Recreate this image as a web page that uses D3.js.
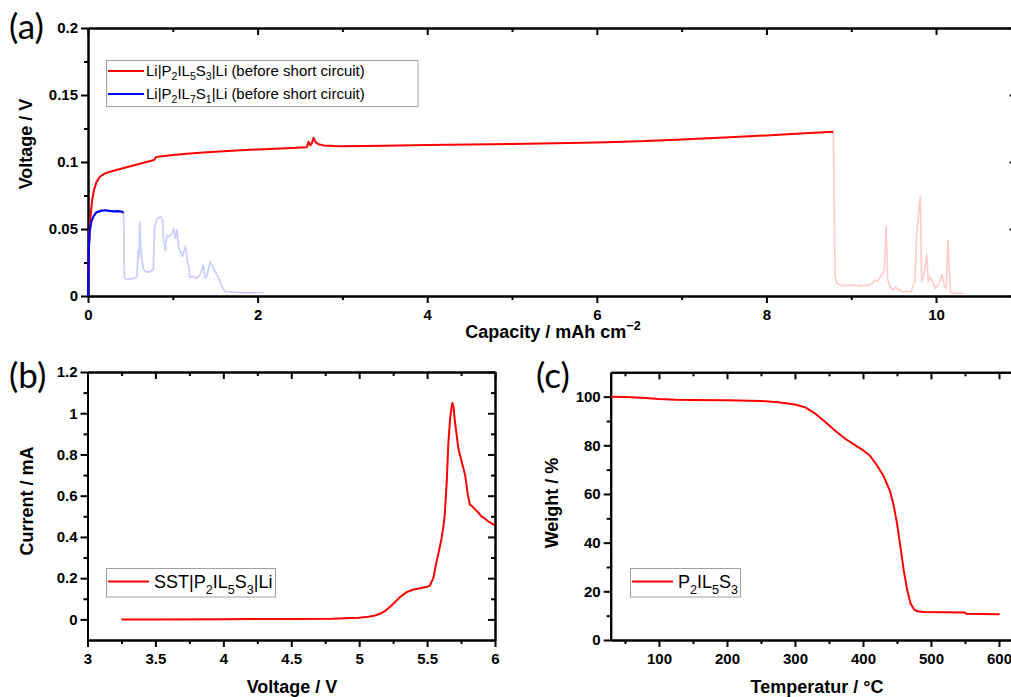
<!DOCTYPE html>
<html>
<head>
<meta charset="utf-8">
<script src="https://cdn.jsdelivr.net/npm/d3@7/dist/d3.min.js"></script>
<style>
  html, body { margin: 0; padding: 0; background: #fff; overflow: hidden; }
  svg { display: block; font-family: "Liberation Sans", Arial, sans-serif; }
</style>
</head>
<body>
<svg id="fig" width="1011" height="697"></svg>
<script>
// ---------- (a) galvanostatic Li stripping/plating: capacity vs voltage ----------
const capL5 = [0, 0.005, 0.01, 0.02, 0.035, 0.05, 0.07, 0.1, 0.14, 0.2, 0.3, 0.4, 0.5, 0.6, 0.7, 0.78, 0.8, 0.83, 1.0, 1.2, 1.4, 1.6, 1.8, 2.0, 2.2, 2.4, 2.58, 2.6, 2.62, 2.64, 2.66, 2.68, 2.72, 2.78, 2.9, 3.0, 3.5, 4.0, 4.5, 5.0, 5.5, 6.0, 6.5, 7.0, 7.5, 8.0, 8.4, 8.79];
const voltL5 = [0, 0.02, 0.035, 0.05, 0.063, 0.072, 0.079, 0.085, 0.089, 0.0915, 0.0935, 0.0952, 0.0968, 0.0985, 0.1002, 0.1015, 0.1035, 0.104, 0.1052, 0.1063, 0.1072, 0.108, 0.1088, 0.1094, 0.1099, 0.1104, 0.1110, 0.1151, 0.1125, 0.1140, 0.1181, 0.1150, 0.1132, 0.1124, 0.1119, 0.1118, 0.1122, 0.1126, 0.1130, 0.1135, 0.1140, 0.1145, 0.1155, 0.1168, 0.1182, 0.1198, 0.1212, 0.1226];

const capL5Short = [8.79, 8.8, 8.81, 8.83, 8.87, 8.92, 8.97, 9.0, 9.05, 9.1, 9.15, 9.2, 9.25, 9.28, 9.31, 9.34, 9.36, 9.39, 9.41, 9.43, 9.46, 9.49, 9.52, 9.6, 9.71, 9.73, 9.75, 9.77, 9.79, 9.80, 9.815, 9.83, 9.86, 9.89, 9.91, 9.93, 9.95, 9.99, 10.03, 10.07, 10.1, 10.12, 10.14, 10.17, 10.2, 10.33];
const voltL5Short = [0.1226, 0.06, 0.015, 0.0095, 0.0082, 0.0075, 0.0082, 0.0078, 0.0083, 0.0072, 0.008, 0.0078, 0.0095, 0.0118, 0.011, 0.014, 0.0157, 0.019, 0.052, 0.012, 0.007, 0.0045, 0.0065, 0.0032, 0.0032, 0.008, 0.0097, 0.045, 0.058, 0.066, 0.074, 0.0107, 0.017, 0.0306, 0.0107, 0.014, 0.0119, 0.0057, 0.009, 0.0157, 0.007, 0.006, 0.0413, 0.003, 0.002, 0.002];

const capL7 = [0, 0.005, 0.01, 0.02, 0.04, 0.07, 0.1, 0.15, 0.2, 0.25, 0.3, 0.35, 0.4, 0.42];
const voltL7 = [0, 0.02, 0.035, 0.048, 0.056, 0.06, 0.0625, 0.0635, 0.064, 0.0635, 0.0632, 0.0633, 0.063, 0.062];

const capL7Short = [0.42, 0.425, 0.43, 0.47, 0.52, 0.578, 0.59, 0.6, 0.61, 0.625, 0.65, 0.68, 0.72, 0.77, 0.785, 0.815, 0.855, 0.88, 0.89, 0.912, 0.93, 0.95, 0.99, 1.01, 1.03, 1.05, 1.07, 1.09, 1.11, 1.13, 1.15, 1.17, 1.19, 1.2, 1.24, 1.28, 1.32, 1.36, 1.38, 1.4, 1.44, 1.48, 1.52, 1.56, 1.58, 1.62, 1.8, 2.07];
const voltL7Short = [0.062, 0.03, 0.0132, 0.0125, 0.013, 0.0142, 0.034, 0.028, 0.0547, 0.034, 0.0206, 0.018, 0.018, 0.0195, 0.0512, 0.0575, 0.0592, 0.0567, 0.042, 0.034, 0.045, 0.0443, 0.0468, 0.0505, 0.043, 0.0493, 0.0356, 0.034, 0.0294, 0.033, 0.037, 0.0264, 0.0214, 0.014, 0.0145, 0.0132, 0.0157, 0.0231, 0.0135, 0.0145, 0.0256, 0.0206, 0.0157, 0.0107, 0.007, 0.0032, 0.0025, 0.0025];

const xTicksA = [0, 2, 4, 6, 8, 10];
const xMinorA = [1, 3, 5, 7, 9];
const yTicksA = [0, 0.05, 0.1, 0.15, 0.2];
const yTickLabelsA = ["0", "0.05", "0.1", "0.15", "0.2"];
const yMinorA = [0.025, 0.075, 0.125, 0.175];

// ---------- (b) linear sweep voltammetry ----------
const voltLSV = [3.25, 3.5, 4.0, 4.5, 4.8, 4.9, 5.0, 5.05, 5.1, 5.15, 5.2, 5.25, 5.3, 5.35, 5.4, 5.45, 5.5, 5.52, 5.546, 5.57, 5.59, 5.607, 5.62, 5.63, 5.645, 5.656, 5.67, 5.68, 5.686, 5.695, 5.705, 5.73, 5.754, 5.78, 5.80, 5.815, 5.83, 5.85, 5.875, 5.90, 5.925, 5.95, 5.97, 5.99, 6.0];
const currLSV = [0, 0, 0.001, 0.002, 0.003, 0.005, 0.008, 0.011, 0.016, 0.026, 0.045, 0.075, 0.108, 0.132, 0.145, 0.151, 0.158, 0.164, 0.2, 0.28, 0.34, 0.394, 0.45, 0.507, 0.67, 0.85, 0.977, 1.03, 1.05, 1.03, 0.96, 0.83, 0.767, 0.70, 0.605, 0.556, 0.55, 0.536, 0.52, 0.50, 0.49, 0.475, 0.468, 0.46, 0.462];

const xTicksB = [3, 3.5, 4, 4.5, 5, 5.5, 6];
const xTickLabelsB = ["3", "3.5", "4", "4.5", "5", "5.5", "6"];
const xMinorB = [3.25, 3.75, 4.25, 4.75, 5.25, 5.75];
const yTicksB = [0, 0.2, 0.4, 0.6, 0.8, 1, 1.2];
const yTickLabelsB = ["0", "0.2", "0.4", "0.6", "0.8", "1", "1.2"];
const yMinorB = [0.1, 0.3, 0.5, 0.7, 0.9, 1.1];

// ---------- (c) thermogravimetric analysis ----------
const tempTGA = [30, 50, 75, 100, 125, 150, 200, 250, 275, 300, 315, 330, 345, 360, 375, 390, 400, 410, 420, 430, 440, 445, 450, 455, 460, 465, 470, 475, 480, 490, 520, 550, 552, 575, 601];
const weightTGA = [100, 99.9, 99.5, 99.0, 98.7, 98.6, 98.5, 98.2, 97.7, 96.8, 95.6, 93, 89.5, 85.8, 82.5, 79.8, 78, 75.8, 72, 67.5, 61, 55.5, 48, 38.5, 28.5, 20.5, 15, 12.6, 11.8, 11.5, 11.4, 11.3, 10.8, 10.7, 10.6];

const xTicksC = [100, 200, 300, 400, 500, 600];
const xMinorC = [50, 150, 250, 350, 450, 550];
const yTicksC = [0, 20, 40, 60, 80, 100];
const yMinorC = [10, 30, 50, 70, 90];

// ---------- drawing ----------
const svg = d3.select("#fig");
const RED = "#ff0000", BLUE = "#0000ff";

const zip = (xs, ys) => xs.map((v, i) => [v, ys[i]]);

// Four-sided frame: labelled bottom/left with outward ticks, mirrored top/right with inward ticks
function frame(x, y, o) {
  const g = svg.append("g");
  const [x0, x1] = x.range(), [y0, y1] = y.range();
  const tickStyle = sel => {
    sel.selectAll(".domain").attr("stroke", "#000").attr("stroke-width", 2);
    sel.selectAll(".tick line").attr("stroke", "#000").attr("stroke-width", 2);
    sel.selectAll("text").attr("font-size", 15).attr("font-weight", "bold").attr("fill", "#000")
       .attr("font-family", "'Liberation Sans', Arial, sans-serif");
  };
  // unlabelled axes: drop the empty tick texts
  const bare = sel => { sel.selectAll(".tick text").remove(); tickStyle(sel); };
  const fmtX = o.xLabels ? (d => o.xLabels[o.xTicks.indexOf(d)]) : (d => String(d));
  const fmtY = o.yLabels ? (d => o.yLabels[o.yTicks.indexOf(d)]) : (d => String(d));

  // bottom
  g.append("g").attr("transform", `translate(0,${y0})`)
    .call(d3.axisBottom(x).tickValues(o.xMinor).tickSizeInner(4).tickSizeOuter(0))
    .call(bare);
  g.append("g").attr("transform", `translate(0,${y0})`)
    .call(d3.axisBottom(x).tickValues(o.xTicks).tickSizeInner(7).tickSizeOuter(0).tickPadding(6).tickFormat(fmtX))
    .call(tickStyle);
  // top (inward)
  g.append("g").attr("transform", `translate(0,${y1})`)
    .call(d3.axisTop(x).tickValues(o.xMinor).tickSizeInner(-4).tickSizeOuter(0))
    .call(bare);
  g.append("g").attr("transform", `translate(0,${y1})`)
    .call(d3.axisTop(x).tickValues(o.xTicks).tickSizeInner(-7).tickSizeOuter(0))
    .call(bare);
  // left
  g.append("g").attr("transform", `translate(${x0},0)`)
    .call(d3.axisLeft(y).tickValues(o.yMinor).tickSizeInner(4).tickSizeOuter(0))
    .call(bare);
  g.append("g").attr("transform", `translate(${x0},0)`)
    .call(d3.axisLeft(y).tickValues(o.yTicks).tickSizeInner(7).tickSizeOuter(0).tickPadding(3).tickFormat(fmtY))
    .call(tickStyle);
  // right (inward)
  g.append("g").attr("transform", `translate(${x1},0)`)
    .call(d3.axisRight(y).tickValues(o.yMinor).tickSizeInner(-4).tickSizeOuter(0))
    .call(bare);
  g.append("g").attr("transform", `translate(${x1},0)`)
    .call(d3.axisRight(y).tickValues(o.yTicks).tickSizeInner(-7).tickSizeOuter(0))
    .call(bare);
  return g;
}

function curve(x, y, pts, color, width, opacity) {
  svg.append("path")
    .datum(pts)
    .attr("fill", "none")
    .attr("stroke", color)
    .attr("stroke-width", width)
    .attr("stroke-opacity", opacity)
    .attr("stroke-linejoin", "round")
    .attr("d", d3.line().x(d => x(d[0])).y(d => y(d[1])));
}

// text made of runs: [string, "sub"|"sup"|undefined]
function rich(parent, parts, attrs) {
  const t = parent.append("text");
  Object.entries(attrs).forEach(([k, v]) => t.attr(k, v));
  const fs = parseFloat(attrs["font-size"]);
  let shift = 0;
  parts.forEach(([s, kind]) => {
    const ts = t.append("tspan").text(s);
    let target = 0;
    if (kind === "sub") { target = 0.32; ts.attr("font-size", "0.7em"); }
    if (kind === "sup") { target = -0.45; ts.attr("font-size", "0.7em"); }
    const dy = (target - shift) * fs;
    if (dy !== 0) ts.attr("dy", dy.toFixed(2));
    shift = target;
  });
  return t;
}

function legendBox(x, y, w, h) {
  svg.append("rect").attr("x", x).attr("y", y).attr("width", w).attr("height", h)
    .attr("fill", "#fff").attr("stroke", "#a0a0a0").attr("stroke-width", 1);
}

function legendLine(x1, x2, y, color) {
  svg.append("line").attr("x1", x1).attr("x2", x2).attr("y1", y).attr("y2", y)
    .attr("stroke", color).attr("stroke-width", 2);
}

function axisTitle(x, y, parts, rotate) {
  const g = svg.append("g").attr("transform", `translate(${x},${y})` + (rotate ? " rotate(-90)" : ""));
  rich(g, parts, { "font-size": 18, "font-weight": "bold", "text-anchor": "middle", fill: "#000" });
}

function panelTag(x, y, s) {
  svg.append("text").attr("x", x).attr("y", y).text(s)
    .attr("font-family", "Lato, 'Open Sans', sans-serif").attr("font-size", 35).attr("fill", "#000");
}

// ----- panel (a)
const xA = d3.scaleLinear().domain([0, 10.95]).range([88, 1016.6]);
const yA = d3.scaleLinear().domain([0, 0.2]).range([296, 28]);
frame(xA, yA, { xTicks: xTicksA, xMinor: xMinorA, yTicks: yTicksA, yLabels: yTickLabelsA, yMinor: yMinorA });
curve(xA, yA, zip(capL5Short, voltL5Short), RED, 1.7, 0.2);
curve(xA, yA, zip(capL7Short, voltL7Short), BLUE, 1.7, 0.2);
curve(xA, yA, zip(capL5, voltL5), RED, 2, 1);
curve(xA, yA, zip(capL7, voltL7), BLUE, 2.2, 1);

legendBox(106.5, 60.5, 311.5, 46);
legendLine(108, 144, 71, RED);
legendLine(108, 144, 94, BLUE);
rich(svg, [["Li|P"], ["2", "sub"], ["IL"], ["5", "sub"], ["S"], ["3", "sub"], ["|Li (before short circuit)"]],
  { x: 146, y: 75.5, "font-size": 15, fill: "#000" });
rich(svg, [["Li|P"], ["2", "sub"], ["IL"], ["7", "sub"], ["S"], ["1", "sub"], ["|Li (before short circuit)"]],
  { x: 146, y: 98.5, "font-size": 15, fill: "#000" });

axisTitle(32, 144, [["Voltage / V"]], true);
axisTitle(553, 338, [["Capacity / mAh cm"], ["\u22122", "sup"]], false);
panelTag(9, 39, "(a)");

// ----- panel (b)
const xB = d3.scaleLinear().domain([3, 6]).range([87.5, 495]);
const yB = d3.scaleLinear().domain([-0.1, 1.2]).range([640, 372]);
frame(xB, yB, { xTicks: xTicksB, xLabels: xTickLabelsB, xMinor: xMinorB, yTicks: yTicksB, yLabels: yTickLabelsB, yMinor: yMinorB });
curve(xB, yB, zip(voltLSV, currLSV), RED, 2, 1);

legendBox(106.5, 568.5, 169, 28.5);
legendLine(108, 149, 581.5, RED);
rich(svg, [["SST|P"], ["2", "sub"], ["IL"], ["5", "sub"], ["S"], ["3", "sub"], ["|Li"]],
  { x: 154, y: 588, "font-size": 18, fill: "#000" });

axisTitle(33, 501, [["Current / mA"]], true);
axisTitle(292, 693, [["Voltage / V"]], false);
panelTag(9, 388, "(b)");

// ----- panel (c)
const xC = d3.scaleLinear().domain([29, 630]).range([610.7, 610.7 + 601 * 0.68]);
const yC = d3.scaleLinear().domain([0, 110]).range([640, 372.3]);
frame(xC, yC, { xTicks: xTicksC, xMinor: xMinorC, yTicks: yTicksC, yMinor: yMinorC });
curve(xC, yC, zip(tempTGA, weightTGA), RED, 2, 1);

legendBox(630.5, 568.5, 110, 28.5);
legendLine(632, 673, 581.5, RED);
rich(svg, [["P"], ["2", "sub"], ["IL"], ["5", "sub"], ["S"], ["3", "sub"]],
  { x: 678, y: 588, "font-size": 18, fill: "#000" });

axisTitle(558, 503, [["Weight / %"]], true);
axisTitle(817, 693, [["Temperatur / \u00B0C"]], false);
panelTag(536, 388, "(c)");
</script>
</body>
</html>
